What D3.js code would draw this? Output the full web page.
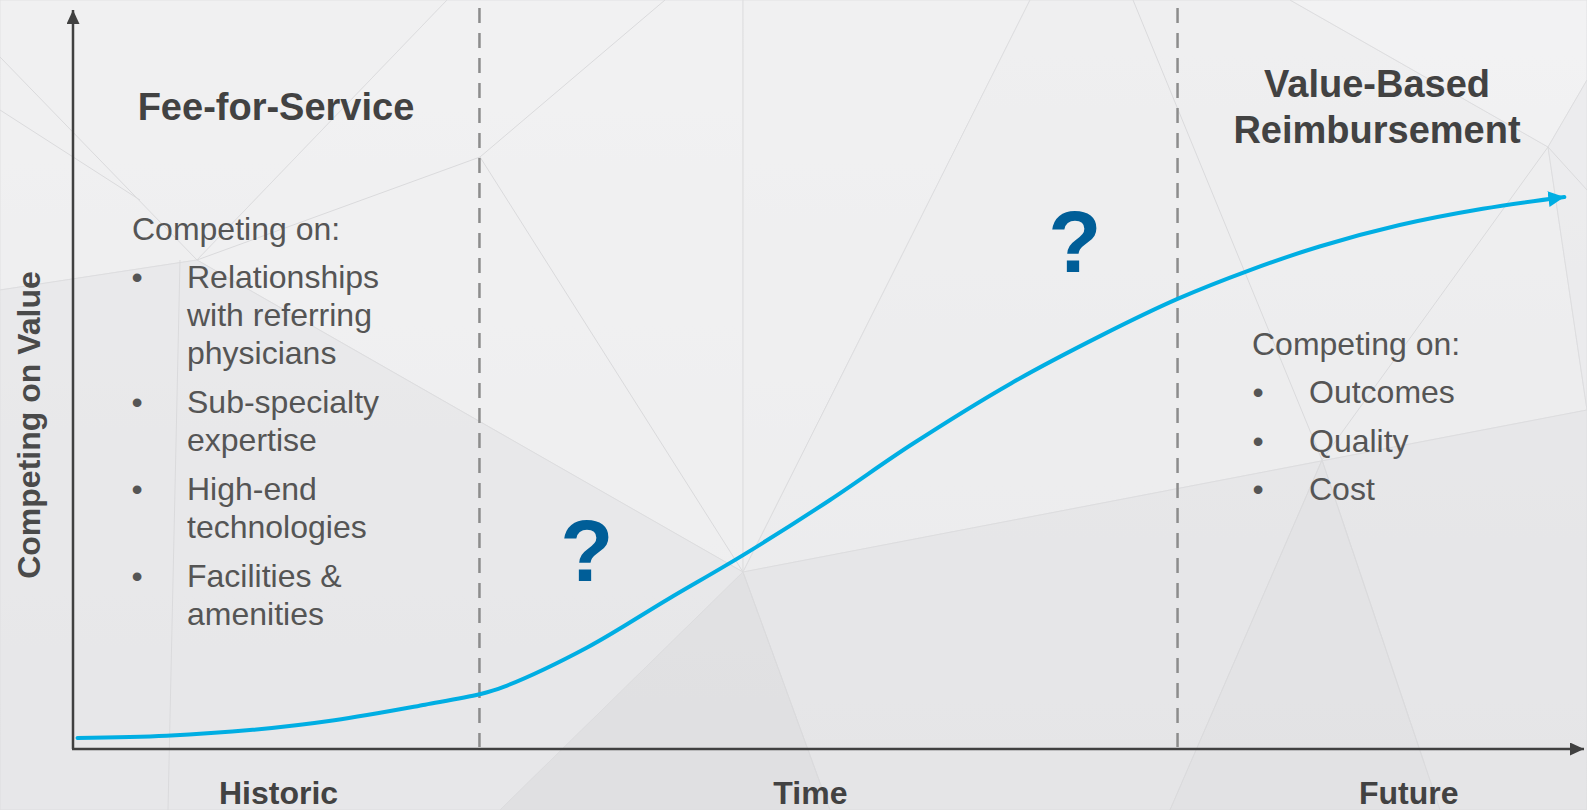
<!DOCTYPE html>
<html>
<head>
<meta charset="utf-8">
<script src="https://cdn.jsdelivr.net/npm/d3@7"></script>
<style>
  html, body { margin: 0; padding: 0; background: #eeeeef; }
  svg { display: block; }
  text { font-family: "Liberation Sans", Arial, sans-serif; }
</style>
</head>
<body>
<svg id="chart" width="1587" height="810"></svg>
<script>

// curve: time (0-100) vs value (0-100)
var timeVals  = [0.3, 6.2, 11.9, 17.3, 23.3, 26.9, 28.5, 34.0, 39.4, 44.4, 50.1, 55.5, 62.1, 68.0, 73.1, 77.9, 82.5, 87.8, 93.3, 98.7];
var valueVals = [1.5, 1.8, 2.6, 3.9, 6.0, 7.4, 8.4, 13.7, 20.3, 26.3, 33.7, 41.2, 49.5, 55.9, 60.9, 64.8, 68.0, 70.9, 73.1, 74.7];

// phase boundaries (time units)
var phaseBounds = [26.9, 73.1];

// bottom labels and where they sit on the time axis
var xLabels = ['Historic', 'Time', 'Future'];
var xLabelTicks = [13.6, 48.8, 88.4];

var yLabel = 'Competing on Value';

var feeTitle = ['Fee-for-Service'];
var feeItems = [
  ['Relationships', 'with referring', 'physicians'],
  ['Sub-specialty', 'expertise'],
  ['High-end', 'technologies'],
  ['Facilities &', 'amenities']
];
var valueTitle = ['Value-Based', 'Reimbursement'];
var valueItems = ['Outcomes', 'Quality', 'Cost'];
var listHead = 'Competing on:';

// question marks: [time, value]
var questionMarks = [[34.0, 22.8], [66.3, 64.6]];

// background facets (decoration only)
var facets = [
  {pts: [[0,0],[447,0],[197,260],[0,290]], fill: '#f0f0f1'},
  {pts: [[447,0],[743,0],[743,572],[197,260]], fill: '#f1f1f2'},
  {pts: [[0,290],[197,260],[743,572],[500,810],[0,810]], fill: '#e8e8ea'},
  {pts: [[743,572],[500,810],[830,810]], fill: '#dfdfe1'},
  {pts: [[743,0],[1030,0],[743,572]], fill: '#f0f0f1'},
  {pts: [[1030,0],[1290,0],[1548,147],[1587,410],[743,572]], fill: '#eeeeef'},
  {pts: [[1290,0],[1587,0],[1587,80],[1548,147]], fill: '#f2f2f3'},
  {pts: [[1548,147],[1587,80],[1587,410]], fill: '#ebebed'},
  {pts: [[743,572],[1587,410],[1587,810],[830,810]], fill: '#e6e6e8'},
  {pts: [[1322,460],[1170,810],[1440,810]], fill: '#e2e2e4'}
];
var facetLines = [
  [[480,157],[743,572]], [[197,260],[480,157]], [[480,157],[665,0]],
  [[0,57],[197,260]], [[0,110],[140,200]],
  [[180,260],[168,810]], [[1133,0],[1322,460]], [[1548,147],[1322,460]],
  [[1548,147],[1587,190]], [[1322,460],[1170,810]], [[1322,460],[1440,810]],
  [[743,572],[830,810]]
];

var W = 1587, H = 810;
var svg = d3.select('#chart');

var x = d3.scaleLinear().domain([0, 100]).range([73, 1584]);
var y = d3.scaleLinear().domain([0, 100]).range([749, 10]);

// background
var defs = svg.append('defs');
var grad = defs.append('linearGradient')
  .attr('id', 'bg_grad')
  .attr('x1', 0).attr('y1', 0).attr('x2', 0).attr('y2', 1);
grad.append('stop').attr('offset', '0%').attr('stop-color', '#f3f3f4');
grad.append('stop').attr('offset', '100%').attr('stop-color', '#e4e4e6');

svg.append('rect')
  .attr('width', W).attr('height', H)
  .style('fill', 'url(#bg_grad)');

svg.append('g')
  .selectAll('polygon')
  .data(facets)
  .enter()
  .append('polygon')
  .attr('points', function(d) { return d.pts.join(' '); })
  .style('fill', function(d) { return d.fill; })
  .style('opacity', 0.75)
  .style('stroke', '#dcdcde')
  .style('stroke-width', '1px');

svg.append('g')
  .selectAll('line')
  .data(facetLines)
  .enter()
  .append('line')
  .attr('x1', function(d) { return d[0][0]; })
  .attr('y1', function(d) { return d[0][1]; })
  .attr('x2', function(d) { return d[1][0]; })
  .attr('y2', function(d) { return d[1][1]; })
  .style('stroke', '#dadadc')
  .style('stroke-width', '1px');

// arrow markers
function add_marker(id, color, len, half) {
  defs.append('marker')
    .attr('id', id)
    .attr('markerUnits', 'userSpaceOnUse')
    .attr('viewBox', '0 ' + (-half) + ' ' + len + ' ' + (2 * half))
    .attr('refX', len)
    .attr('refY', 0)
    .attr('markerWidth', len)
    .attr('markerHeight', 2 * half)
    .attr('orient', 'auto')
    .append('path')
    .attr('d', 'M0,' + (-half) + 'L' + len + ',0L0,' + half + 'Z')
    .style('fill', color);
}
add_marker('axis_arrow', '#404040', 14, 6.5);
add_marker('curve_arrow', '#00aee3', 16, 8);

// phase dashed lines
svg.append('g')
  .selectAll('.phase_lines')
  .data(phaseBounds)
  .enter()
  .append('line')
  .attr('class', 'phase_lines')
  .attr('x1', function(d) { return x(d); })
  .attr('x2', function(d) { return x(d); })
  .attr('y1', y(100) - 2)
  .attr('y2', y(0) - 2)
  .style('stroke', '#8c8c8c')
  .style('stroke-width', '2.5px')
  .style('stroke-dasharray', '15,10');

// axes
svg.append('line')
  .attr('x1', x(0)).attr('y1', y(0))
  .attr('x2', x(0)).attr('y2', y(100))
  .style('stroke', '#404040')
  .style('stroke-width', '2.5px')
  .attr('marker-end', 'url(#axis_arrow)');

svg.append('line')
  .attr('x1', x(0) - 1).attr('y1', y(0))
  .attr('x2', x(100)).attr('y2', y(0))
  .style('stroke', '#404040')
  .style('stroke-width', '2.5px')
  .attr('marker-end', 'url(#axis_arrow)');

// value curve
var curveData = timeVals.map(function(t, i) { return [t, valueVals[i]]; });
var line = d3.line()
  .x(function(d) { return x(d[0]); })
  .y(function(d) { return y(d[1]); })
  .curve(d3.curveCatmullRom.alpha(0.5));

svg.append('path')
  .datum(curveData)
  .attr('d', line)
  .style('fill', 'none')
  .style('stroke', '#00aee3')
  .style('stroke-width', '4px')
  .style('stroke-linecap', 'round')
  .attr('marker-end', 'url(#curve_arrow)');

// question marks
svg.append('g')
  .selectAll('text')
  .data(questionMarks)
  .enter()
  .append('text')
  .attr('x', function(d) { return x(d[0]); })
  .attr('y', function(d) { return y(d[1]); })
  .attr('text-anchor', 'middle')
  .style('font-size', '87px')
  .style('font-weight', 'bold')
  .style('fill', '#005e98')
  .text('?');

// headings
svg.append('g')
  .selectAll('text')
  .data(feeTitle)
  .enter()
  .append('text')
  .attr('x', 276)
  .attr('y', function(d, i) { return 120 + i * 46; })
  .attr('text-anchor', 'middle')
  .style('font-size', '38px')
  .style('font-weight', 'bold')
  .style('fill', '#424242')
  .text(function(d) { return d; });

svg.append('g')
  .selectAll('text')
  .data(valueTitle)
  .enter()
  .append('text')
  .attr('x', 1377)
  .attr('y', function(d, i) { return 97 + i * 46; })
  .attr('text-anchor', 'middle')
  .style('font-size', '38px')
  .style('font-weight', 'bold')
  .style('fill', '#424242')
  .text(function(d) { return d; });

// left list
var bodyStyle = function(sel) {
  sel.style('font-size', '32px').style('fill', '#555555');
};

svg.append('text')
  .attr('x', 132).attr('y', 240)
  .call(bodyStyle)
  .text(listHead);

var feeLines = [];
var yy = 288;
feeItems.forEach(function(item) {
  item.forEach(function(txt, j) {
    feeLines.push({text: txt, y: yy, bullet: j === 0});
    yy += 38;
  });
  yy += 11;
});

var feeG = svg.append('g');
feeG.selectAll('.fee_text')
  .data(feeLines)
  .enter()
  .append('text')
  .attr('class', 'fee_text')
  .attr('x', 187)
  .attr('y', function(d) { return d.y; })
  .call(bodyStyle)
  .text(function(d) { return d.text; });

feeG.selectAll('.fee_bullet')
  .data(feeLines.filter(function(d) { return d.bullet; }))
  .enter()
  .append('text')
  .attr('class', 'fee_bullet')
  .attr('x', 137)
  .attr('y', function(d) { return d.y; })
  .attr('text-anchor', 'middle')
  .call(bodyStyle)
  .text('\u2022');

// right list
svg.append('text')
  .attr('x', 1252).attr('y', 355)
  .call(bodyStyle)
  .text(listHead);

var valG = svg.append('g');
valG.selectAll('.val_text')
  .data(valueItems)
  .enter()
  .append('text')
  .attr('class', 'val_text')
  .attr('x', 1309)
  .attr('y', function(d, i) { return 403 + i * 48.5; })
  .call(bodyStyle)
  .text(function(d) { return d; });

valG.selectAll('.val_bullet')
  .data(valueItems)
  .enter()
  .append('text')
  .attr('class', 'val_bullet')
  .attr('x', 1258)
  .attr('y', function(d, i) { return 403 + i * 48.5; })
  .attr('text-anchor', 'middle')
  .call(bodyStyle)
  .text('\u2022');

// axis titles
svg.append('text')
  .attr('transform', 'translate(40,' + 425 + ') rotate(-90)')
  .attr('text-anchor', 'middle')
  .style('font-size', '32px')
  .style('font-weight', 'bold')
  .style('fill', '#4a4a4a')
  .text(yLabel);

svg.append('g')
  .selectAll('text')
  .data(xLabels)
  .enter()
  .append('text')
  .attr('x', function(d, i) { return x(xLabelTicks[i]); })
  .attr('y', 804)
  .attr('text-anchor', 'middle')
  .style('font-size', '32px')
  .style('font-weight', 'bold')
  .style('fill', '#424242')
  .text(function(d) { return d; });

</script>
</body>
</html>
